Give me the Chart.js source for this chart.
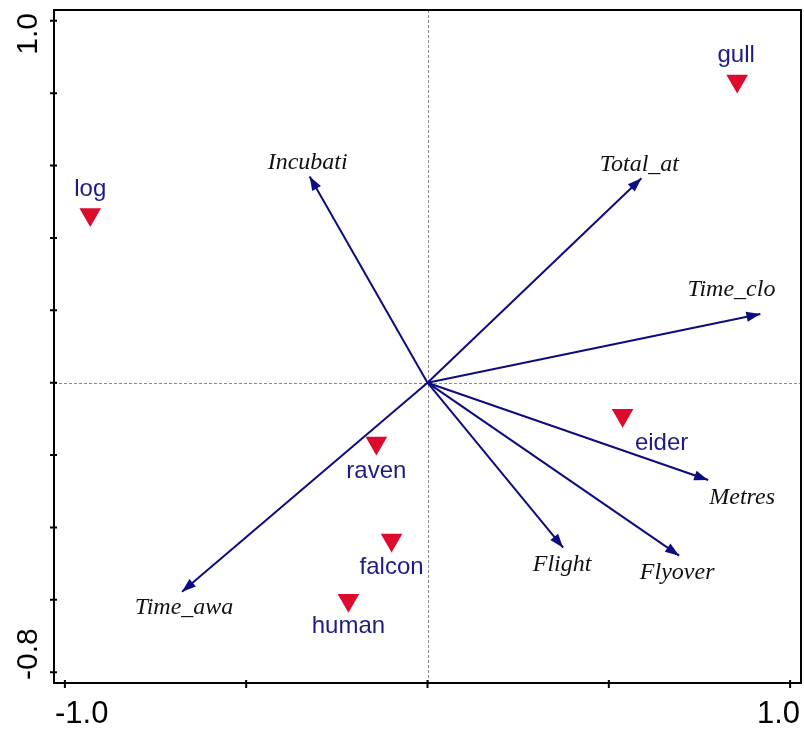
<!DOCTYPE html>
<html>
<head>
<meta charset="utf-8">
<script src="https://cdn.jsdelivr.net/npm/chart.js@4/dist/chart.umd.min.js"></script>
<style>
  html, body { margin: 0; padding: 0; background: #ffffff; }
  canvas { display: block; }
</style>
</head>
<body>
<canvas id="biplot" width="804" height="730"></canvas>
<script>
// Species scores (plotted as triangles)
const speciesNames = ['gull', 'log', 'raven', 'falcon', 'human', 'eider'];
const speciesX = [0.854, -0.930, -0.141, -0.099, -0.218, 0.538];
const speciesY = [0.834, 0.465, -0.167, -0.435, -0.601, -0.090];

// Environmental variables (plotted as arrows from the origin)
const variableNames = ['Incubati', 'Total_at', 'Time_clo', 'Metres', 'Flyover', 'Flight', 'Time_awa'];
const variableX = [-0.325, 0.590, 0.918, 0.774, 0.694, 0.374, -0.677];
const variableY = [0.570, 0.565, 0.190, -0.269, -0.478, -0.456, -0.578];

// Axis ticks and the labels shown at the ends of each axis
const xTicks = [-1.0, -0.5, 0, 0.5, 1.0];
const yTicks = [-0.8, -0.6, -0.4, -0.2, 0, 0.2, 0.4, 0.6, 0.8, 1.0];
const xTickLabels = ['-1.0', '1.0'];
const yTickLabels = ['-0.8', '1.0'];

// Label placement (pixel offsets: horizontal centre, baseline) relative to each mark
const speciesLabelOffsets = [[-1, -19], [0, -18], [0, 35], [0, 34], [0, 33], [39, 35]];
const variableLabelOffsets = [[-2, -7], [-2, -7], [-29, -18], [34, 24], [-2, 23], [-1, 23], [2, 22]];

const RED = '#dc0a2c';
const NAVY = '#0c0c80';
const LABEL_NAVY = '#1c1c88';

const speciesDataset = {
  label: 'species',
  data: speciesX.map((x, i) => ({ x: x, y: speciesY[i] })),
  pointStyle: 'triangle',
  rotation: 180,
  pointRadius: 12.5,
  pointHoverRadius: 12.5,
  backgroundColor: RED,
  borderWidth: 0,
  showLine: false
};

const arrowDatasets = variableNames.map((name, i) => ({
  label: name,
  data: [{ x: 0, y: 0 }, { x: variableX[i], y: variableY[i] }],
  showLine: true,
  borderColor: NAVY,
  borderWidth: 2,
  pointRadius: 0,
  pointHoverRadius: 0,
  fill: false
}));

// Dashed lines through the origin
const originLines = {
  id: 'originLines',
  beforeDatasetsDraw(chart) {
    const { ctx, chartArea: a, scales: { x, y } } = chart;
    const px = Math.round(x.getPixelForValue(0)) + 0.5;
    const py = Math.round(y.getPixelForValue(0)) + 0.5;
    ctx.save();
    ctx.strokeStyle = '#8a8a8a';
    ctx.lineWidth = 1;
    ctx.setLineDash([3, 2]);
    ctx.beginPath();
    ctx.moveTo(a.left, py); ctx.lineTo(a.right, py);
    ctx.moveTo(px, a.top); ctx.lineTo(px, a.bottom);
    ctx.stroke();
    ctx.restore();
  }
};

// Arrowheads and text labels
const biplotLabels = {
  id: 'biplotLabels',
  afterDatasetsDraw(chart) {
    const { ctx, scales: { x, y } } = chart;
    const ox = x.getPixelForValue(0), oy = y.getPixelForValue(0);
    ctx.save();
    // arrowheads
    ctx.fillStyle = NAVY;
    variableNames.forEach((name, i) => {
      const tx = x.getPixelForValue(variableX[i]);
      const ty = y.getPixelForValue(variableY[i]);
      const ang = Math.atan2(ty - oy, tx - ox);
      const len = 14, half = 5;
      const bx = tx - len * Math.cos(ang), by = ty - len * Math.sin(ang);
      ctx.beginPath();
      ctx.moveTo(tx, ty);
      ctx.lineTo(bx + half * Math.sin(ang), by - half * Math.cos(ang));
      ctx.lineTo(bx - half * Math.sin(ang), by + half * Math.cos(ang));
      ctx.closePath();
      ctx.fill();
    });
    // variable names
    ctx.font = 'italic 24px "Liberation Serif", "DejaVu Serif", serif';
    ctx.fillStyle = '#111111';
    ctx.textAlign = 'center';
    ctx.textBaseline = 'alphabetic';
    variableNames.forEach((name, i) => {
      const tx = x.getPixelForValue(variableX[i]);
      const ty = y.getPixelForValue(variableY[i]);
      const o = variableLabelOffsets[i];
      ctx.fillText(name, tx + o[0], ty + o[1]);
    });
    // species names
    ctx.font = '24px "Liberation Sans", Arial, sans-serif';
    ctx.fillStyle = LABEL_NAVY;
    speciesNames.forEach((name, i) => {
      const px = x.getPixelForValue(speciesX[i]);
      const py = y.getPixelForValue(speciesY[i]);
      const o = speciesLabelOffsets[i];
      ctx.fillText(name, px + o[0], py + o[1]);
    });
    ctx.restore();
  }
};

// Frame, tick marks and end labels
const frameAxes = {
  id: 'frameAxes',
  afterDraw(chart) {
    const { ctx, chartArea: a, scales: { x, y } } = chart;
    ctx.save();
    ctx.strokeStyle = '#000000';
    ctx.lineWidth = 2;
    ctx.strokeRect(a.left, a.top, a.right - a.left, a.bottom - a.top);
    ctx.beginPath();
    xTicks.forEach(v => {
      const px = x.getPixelForValue(v);
      ctx.moveTo(px, a.bottom - 3); ctx.lineTo(px, a.bottom + 5);
    });
    yTicks.forEach(v => {
      const py = y.getPixelForValue(v);
      ctx.moveTo(a.left - 4, py); ctx.lineTo(a.left + 3, py);
    });
    ctx.stroke();

    ctx.fillStyle = '#000000';
    ctx.textBaseline = 'alphabetic';
    ctx.font = '31px "Liberation Sans", Arial, sans-serif';
    ctx.textAlign = 'left';
    ctx.fillText(xTickLabels[0], a.left + 1, 723);
    ctx.textAlign = 'right';
    ctx.fillText(xTickLabels[1], a.right - 1, 723);

    ctx.font = '30px "Liberation Sans", Arial, sans-serif';
    ctx.save();
    ctx.translate(37, a.bottom - 3);
    ctx.rotate(-Math.PI / 2);
    ctx.textAlign = 'left';
    ctx.fillText(yTickLabels[0], 0, 0);
    ctx.restore();
    ctx.save();
    ctx.translate(37, a.top + 3);
    ctx.rotate(-Math.PI / 2);
    ctx.textAlign = 'right';
    ctx.fillText(yTickLabels[1], 0, 0);
    ctx.restore();
    ctx.restore();
  }
};

new Chart(document.getElementById('biplot'), {
  type: 'scatter',
  data: { datasets: [speciesDataset, ...arrowDatasets] },
  options: {
    responsive: false,
    animation: false,
    events: [],
    layout: { autoPadding: false, padding: { left: 54, right: 3, top: 10, bottom: 47 } },
    scales: {
      x: { type: 'linear', min: -1.03, max: 1.03, display: false },
      y: { type: 'linear', min: -0.83, max: 1.03, display: false }
    },
    plugins: {
      legend: { display: false },
      tooltip: { enabled: false }
    }
  },
  plugins: [originLines, biplotLabels, frameAxes]
});
</script>
</body>
</html>
